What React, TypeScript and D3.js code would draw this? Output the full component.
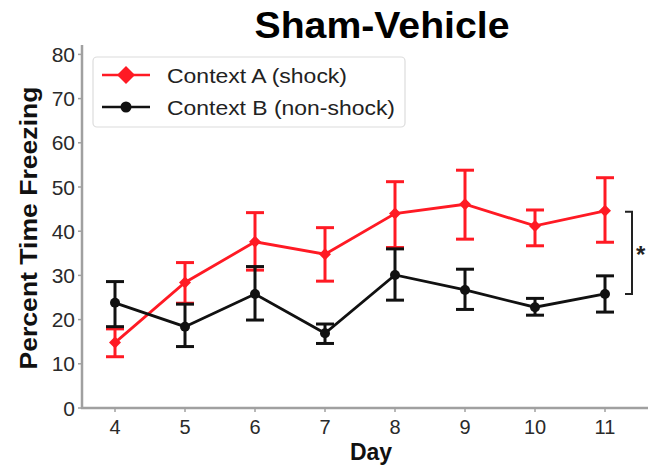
import React from "react";
import * as d3 from "d3";

const days = [4, 5, 6, 7, 8, 9, 10, 11];
const shockMean = [14.8, 28.4, 37.6, 34.8, 44.0, 46.1, 41.2, 44.6];
const shockHigh = [17.9, 32.9, 44.2, 40.8, 51.2, 53.8, 44.8, 52.1];
const shockLow = [11.6, 23.7, 31.2, 28.7, 36.3, 38.2, 36.7, 37.5];
const nonShockMean = [23.8, 18.4, 25.8, 16.9, 30.1, 26.7, 22.8, 25.8];
const nonShockHigh = [28.6, 23.5, 32.0, 19.0, 36.0, 31.4, 24.8, 29.9];
const nonShockLow = [18.4, 13.9, 19.9, 14.6, 24.4, 22.3, 21.0, 21.7];
const yTicks = [0, 10, 20, 30, 40, 50, 60, 70, 80];
const legendLabels = ["Context A (shock)", "Context B (non-shock)"];
const legendWidths = [180, 228];
const title = "Sham-Vehicle";
const xLabel = "Day";
const yLabel = "Percent Time Freezing";
const bracketRange = [44.6, 25.8];

const RED = "#ff1a24";
const BLACK = "#111111";
const AXIS = "#a0a0a0";
const FONT = "'Liberation Sans', Arial, sans-serif";

export default function App() {
  const x = d3.scaleLinear().domain([4, 11]).range([115, 605]);
  const y = d3.scaleLinear().domain([0, 80]).range([408, 54.4]);
  const line = d3
    .line<number>()
    .x((_, i) => x(days[i]))
    .y((d) => y(d));

  const series = [
    { mean: shockMean, hi: shockHigh, lo: shockLow, color: RED, shape: "diamond" },
    { mean: nonShockMean, hi: nonShockHigh, lo: nonShockLow, color: BLACK, shape: "circle" },
  ];

  const diamond = (cx: number, cy: number, r: number) =>
    `M${cx},${cy - r}L${cx + r},${cy}L${cx},${cy + r}L${cx - r},${cy}Z`;

  const bTop = y(bracketRange[0]) + 1;
  const bBot = y(bracketRange[1]);

  return (
    <svg
      width={648}
      height={467}
      style={{ position: "absolute", left: 0, top: 0, background: "#fff" }}
      fontFamily={FONT}
    >
      <rect width={648} height={467} fill="#fff" />
      {/* title */}
      <text
        x={382}
        y={38}
        textAnchor="middle"
        fontSize={36}
        fontWeight="bold"
        fill="#000"
        textLength={255}
        lengthAdjust="spacingAndGlyphs"
      >
        {title}
      </text>

      {/* axes */}
      <line x1={82} x2={82} y1={45} y2={409} stroke={AXIS} strokeWidth={2.5} />
      <line x1={81} x2={648} y1={408} y2={408} stroke={AXIS} strokeWidth={2.5} />
      {yTicks.map((t) => (
        <g key={"y" + t}>
          <line x1={78} x2={82} y1={y(t)} y2={y(t)} stroke={AXIS} strokeWidth={1.5} />
          <text
            x={75}
            y={y(t)}
            dy="0.36em"
            textAnchor="end"
            fontSize={21}
            fill="#2a2a2a"
          >
            {t}
          </text>
        </g>
      ))}
      {days.map((d) => (
        <g key={"x" + d}>
          <line x1={x(d)} x2={x(d)} y1={408} y2={412} stroke={AXIS} strokeWidth={1.5} />
          <text x={x(d)} y={434} textAnchor="middle" fontSize={20} fill="#2a2a2a">
            {d}
          </text>
        </g>
      ))}
      <text x={371} y={460} textAnchor="middle" fontSize={23} fontWeight="bold" fill="#111">
        {xLabel}
      </text>
      <text
        transform={`translate(37,228) rotate(-90)`}
        textAnchor="middle"
        fontSize={23}
        fontWeight="bold"
        fill="#111"
        textLength={283}
        lengthAdjust="spacingAndGlyphs"
      >
        {yLabel}
      </text>

      {/* series */}
      {series.map((s, si) => (
        <g key={"s" + si}>
          <path d={line(s.mean) || ""} fill="none" stroke={s.color} strokeWidth={2.8} />
          {s.mean.map((m, i) => {
            const cx = x(days[i]);
            return (
              <g key={i}>
                <line x1={cx} x2={cx} y1={y(s.hi[i])} y2={y(s.lo[i])} stroke={s.color} strokeWidth={3} />
                <line x1={cx - 9} x2={cx + 9} y1={y(s.hi[i])} y2={y(s.hi[i])} stroke={s.color} strokeWidth={3} />
                <line x1={cx - 9} x2={cx + 9} y1={y(s.lo[i])} y2={y(s.lo[i])} stroke={s.color} strokeWidth={3} />
                {s.shape === "diamond" ? (
                  <path d={diamond(cx, y(m), 6)} fill={s.color} />
                ) : (
                  <circle cx={cx} cy={y(m)} r={5} fill={s.color} />
                )}
              </g>
            );
          })}
        </g>
      ))}

      {/* significance bracket */}
      <path
        d={`M625,${bTop}H632V${bBot}H625`}
        fill="none"
        stroke="#222"
        strokeWidth={2}
      />
      <text x={636} y={263} fontSize={24} fontWeight="bold" fill="#222">
        *
      </text>

      {/* legend */}
      <rect
        x={93}
        y={57}
        width={312}
        height={70}
        rx={4}
        fill="#fff"
        stroke="#dcdcdc"
        strokeWidth={1.2}
      />
      {series.map((s, i) => {
        const ly = 75 + i * 32;
        return (
          <g key={"l" + i}>
            <line x1={102} x2={150} y1={ly} y2={ly} stroke={s.color} strokeWidth={2.5} />
            {s.shape === "diamond" ? (
              <path d={diamond(126, ly, 9)} fill={s.color} />
            ) : (
              <circle cx={126} cy={ly} r={5.5} fill={s.color} />
            )}
            <text
              x={167}
              y={ly}
              dy="0.36em"
              fontSize={21}
              fill="#222"
              textLength={legendWidths[i]}
              lengthAdjust="spacingAndGlyphs"
            >
              {legendLabels[i]}
            </text>
          </g>
        );
      })}
    </svg>
  );
}
